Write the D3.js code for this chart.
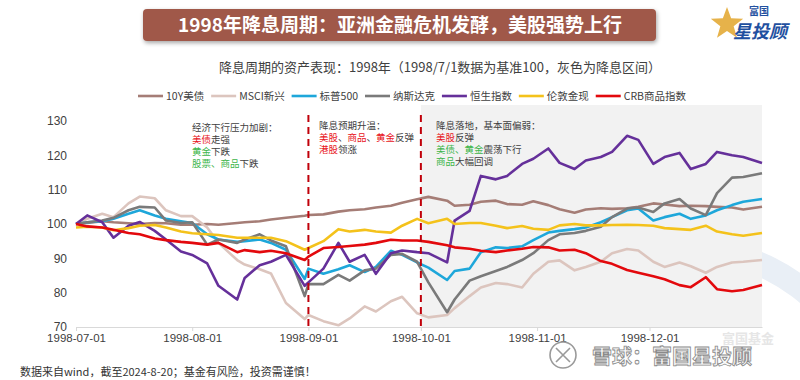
<!DOCTYPE html>
<html>
<head>
<meta charset="utf-8">
<script src="https://cdn.jsdelivr.net/npm/d3@7"></script>
<style>
  body { margin: 0; background: #fff; }
  svg { font-family: "Noto Sans CJK SC", "Noto Sans", sans-serif; }
</style>
</head>
<body>
<div id="chart"></div>
<script>
const width = 800
const height = 380

const dates = ["1998-07-01","1998-07-04","1998-07-08","1998-07-11","1998-07-15","1998-07-18","1998-07-22","1998-07-25","1998-07-29",
  "1998-08-01","1998-08-05","1998-08-08","1998-08-13","1998-08-15","1998-08-19","1998-08-22","1998-08-26","1998-08-31",
  "1998-09-01","1998-09-05","1998-09-09","1998-09-12","1998-09-16","1998-09-19","1998-09-23","1998-09-26","1998-09-30",
  "1998-10-03","1998-10-08","1998-10-10","1998-10-14","1998-10-17","1998-10-21","1998-10-24","1998-10-28","1998-10-31",
  "1998-11-04","1998-11-07","1998-11-11","1998-11-14","1998-11-18","1998-11-21","1998-11-25","1998-11-28",
  "1998-12-02","1998-12-05","1998-12-09","1998-12-12","1998-12-16","1998-12-19","1998-12-23","1998-12-26","1998-12-31"]

const ust10y = [100,100.3,100.8,100.5,100.2,100,100.3,100.2,99.8,
  99.8,100,99.8,100.3,100.5,100.8,101.3,101.8,102.4,
  102.6,102.8,103.6,104,104.3,104.8,105.3,106.2,107.2,
  107.9,106.8,105.3,105.6,106.5,106.8,105.8,105.6,106.6,
  105.5,104.3,103.3,104.2,104.6,104.4,104.6,105,
  106,105.7,105.2,105.3,105.2,105,104.8,104.2,105]
const msci = [100,101.5,103,102,106,108,107.5,104,102.3,
  102.3,99,94.5,89.5,88.2,86.8,85.6,77,72.3,
  73.5,71.7,70.5,72.5,76,74.5,77.5,78.8,74,
  72.8,73.5,75.5,79,81.5,82.8,82.5,81.5,85.5,
  89,89.4,86.5,87.5,89,91.5,92.7,92.3,
  89,87.5,88.8,87.7,85.8,87.5,88.8,89,89.5]
const spx = [100,100.5,100.8,101.5,103,104,102.5,101.5,100.8,
  100.3,97,95.5,94.8,95,95.5,94.5,92.5,84,
  87,85.5,86.8,88,86,87.5,92.2,91,88.8,
  87.3,83.7,86.3,87,91.8,93.2,93,93.5,95.3,
  97.5,98,98.5,99,100.5,102,104,104.5,
  101,102,103,101.5,102.5,104,105.5,106.5,107.3]
const nasdaq = [100,100.5,101,101.8,104,105,104.8,101,100.3,
  100.5,94,95.5,94.5,95.5,97,95.2,93.5,79,
  82.5,82.5,85.2,83.5,86.5,87,91,91.3,89,
  83,74.3,78,83.5,84.8,86.3,87.5,89.5,91.5,
  95.3,97,97.4,98,99.2,102,104.5,104.8,
  103.5,106,107.3,104.5,102.6,109,113.5,113.7,114.8]
const hsi = [100,102.5,100.5,96,99.5,100.6,98,95.5,92,
  91,88.5,82,78,84.3,88,89,91,82,
  83,87,94.5,89,91,85.5,91.5,92.3,91.8,
  91.5,88.8,101,103.8,114,113,114,117.5,119,
  122,117.8,116,118.5,119.5,121,125.7,124.5,
  117.5,119.5,120.7,116,117.5,121,120,119.5,117.8]
const gold = [99,99.2,99,98.2,98.8,99.5,99.7,99,97.8,
  97.3,97,96.8,96,96,96,96,95,92.5,
  93,95,98.5,97.8,98.3,97.8,97.5,99.5,101.5,
  100.2,101.5,100,100.3,100.3,99.5,98.8,99.4,98.6,
  98.3,99.6,100,99.6,99.6,99.7,99.8,99.7,
  99.5,98.8,98.5,98.3,99.5,97.8,97,96.6,97.4]
const crb = [100,99.3,99,98.3,97.4,97,95.8,95.3,94.8,
  94.5,94,94.5,91.8,92.4,91.8,92.2,91.5,89.5,
  90.5,93,93.3,93.6,94,94.5,95.4,95.2,95.2,
  94.8,93.8,93.2,92.8,92.2,91.8,92.3,92.8,93.3,
  93.2,92.3,92.5,91.5,89.2,88.4,86.6,85.8,
  84.8,83.9,82.2,81.6,84.5,81,80.4,80.8,82.2]

const seriesNames = ["10Y美债", "MSCI新兴", "标普500", "纳斯达克", "恒生指数", "伦敦金现", "CRB商品指数"]
const seriesValues = [ust10y, msci, spx, nasdaq, hsi, gold, crb]
const colors = ["#a57d76", "#dcc5be", "#1ea7da", "#7a7a7a", "#65309a", "#f4c21b", "#e3090d"]

const monthTicks = ["1998-07-01","1998-08-01","1998-09-01","1998-10-01","1998-11-01","1998-12-01"]
const yTicks = [70, 80, 90, 100, 110, 120, 130]
const cutLines = ["1998-09-01", "1998-10-01"]
const cutRange = ["1998-10-01", "1998-12-31"]

const parse = d3.timeParse("%Y-%m-%d")

const svg = d3.select("div#chart").append("svg").attr("width", width).attr("height", height)

const defs = svg.append("defs")
const shadow = defs.append("filter").attr("id", "shadow").attr("x", "-5%").attr("y", "-30%").attr("width", "110%").attr("height", "170%")
shadow.append("feDropShadow").attr("dx", 1).attr("dy", 2).attr("stdDeviation", 2).attr("flood-color", "#000").attr("flood-opacity", 0.35)

// faint logo arc in the corner
svg.append("path")
  .attr("d", d3.arc()({innerRadius: 168, outerRadius: 192, startAngle: -0.1, endAngle: 1.4}))
  .attr("transform", "translate(690, 430)")
  .attr("fill", "#e9eff6")

const x = d3.scaleTime().domain([parse("1998-07-01"), parse("1998-12-31")]).range([76, 762])
const y = d3.scaleLinear().domain([70, 130]).range([327, 121])

// grey easing band
svg.append("rect")
  .attr("x", x(parse(cutRange[0])))
  .attr("y", 105)
  .attr("width", x(parse(cutRange[1])) - x(parse(cutRange[0])))
  .attr("height", y(70) - 105)
  .attr("fill", "#f2f2f2")

// axes
const xAxisGroup = svg.append("g").attr("transform", `translate(0, ${y(70)})`)
  .call(d3.axisBottom(x).tickValues(monthTicks.map(parse)).tickFormat(d3.timeFormat("%Y-%m-%d")).tickSizeInner(4).tickSizeOuter(0).tickPadding(3))
xAxisGroup.select(".domain").attr("stroke", "#d9d9d9")
xAxisGroup.selectAll(".tick line").attr("stroke", "#d9d9d9")
xAxisGroup.selectAll(".tick text").attr("fill", "#404040").style("font-size", "11.5px").style("font-family", "Liberation Sans, Arial, sans-serif")

const yAxisGroup = svg.append("g").attr("transform", "translate(70, 0)")
  .call(d3.axisLeft(y).tickValues(yTicks).tickSize(0).tickPadding(3))
yAxisGroup.select(".domain").remove()
yAxisGroup.selectAll(".tick text").attr("fill", "#404040").style("font-size", "12px").style("font-family", "Liberation Sans, Arial, sans-serif")

// series
const line = d3.line().x(d => x(d.date)).y(d => y(d.v))
seriesValues.forEach((vals, i) => {
  const pts = vals.map((v, j) => ({date: parse(dates[j]), v: v}))
  svg.append("path")
    .datum(pts)
    .attr("d", line)
    .attr("fill", "none")
    .attr("stroke", colors[i])
    .attr("stroke-width", 2.6)
    .attr("stroke-linejoin", "round")
})

// rate cut markers
svg.selectAll(".cut").data(cutLines).enter().append("line")
  .attr("class", "cut")
  .attr("x1", d => x(parse(d))).attr("x2", d => x(parse(d)))
  .attr("y1", 115).attr("y2", y(70))
  .attr("stroke", "#c0000a").attr("stroke-width", 2).attr("stroke-dasharray", "7,5")

// title banner
svg.append("rect").attr("x", 143).attr("y", 9).attr("width", 513).attr("height", 32).attr("rx", 4)
  .attr("fill", "#a0594a").attr("filter", "url(#shadow)")
svg.append("text").attr("x", 400).attr("y", 32).attr("text-anchor", "middle")
  .attr("fill", "#fff").style("font-size", "19px").style("font-weight", "bold")
  .text("1998年降息周期：亚洲金融危机发酵，美股强势上行")

svg.append("text").attr("x", 440).attr("y", 72).attr("text-anchor", "middle")
  .attr("fill", "#404040").style("font-size", "13px")
  .text("降息周期的资产表现：1998年（1998/7/1数据为基准100，灰色为降息区间）")

// legend
const legend = svg.append("g")
const items = legend.selectAll("g").data(seriesNames).enter().append("g")
items.append("line").attr("x1", 0).attr("x2", 25).attr("y1", 96).attr("y2", 96)
  .attr("stroke", (d, i) => colors[i]).attr("stroke-width", 2.6)
items.append("text").attr("x", 28).attr("y", 100).attr("fill", "#404040").style("font-size", "10.5px").text(d => d)
const widths = items.nodes().map(n => 28 + n.querySelector("text").getComputedTextLength())
const gap = (548 - d3.sum(widths)) / (widths.length - 1)
let cx = 138
items.attr("transform", (d, i) => { const t = `translate(${cx},0)`; cx += widths[i] + gap; return t })

// annotations
const tone = {d: "#404040", r: "#e8141b", g: "#3db54a"}
const notes = [
  {x: 192, y: 131, lines: [[["经济下行压力加剧：", "d"]], [["美债", "r"], ["走强", "d"]], [["黄金", "g"], ["下跌", "d"]], [["股票、商品", "g"], ["下跌", "d"]]]},
  {x: 319, y: 129, lines: [[["降息预期升温：", "d"]], [["美股", "r"], ["、", "d"], ["商品", "r"], ["、", "d"], ["黄金", "r"], ["反弹", "d"]], [["港股", "r"], ["领涨", "d"]]]},
  {x: 436, y: 129, lines: [[["降息落地，基本面偏弱：", "d"]], [["美股", "r"], ["反弹", "d"]], [["美债、黄金", "g"], ["震荡下行", "d"]], [["商品", "g"], ["大幅回调", "d"]]]}
]
notes.forEach(n => {
  const t = svg.append("text").style("font-size", "9.5px")
  n.lines.forEach((ln, k) => {
    ln.forEach((seg, s) => {
      const sp = t.append("tspan").attr("fill", tone[seg[1]]).text(seg[0])
      if (s === 0) sp.attr("x", n.x).attr("y", n.y + k * 12)
    })
  })
})

// footer
svg.append("text").attr("x", 20).attr("y", 376).attr("fill", "#333").style("font-size", "11px")
  .text("数据来自wind，截至2024-8-20；基金有风险，投资需谨慎！")

// watermark
svg.append("text").attr("x", 722).attr("y", 343).attr("fill", "#e6e6e6").style("font-size", "13px").style("font-weight", "bold").text("富国基金")
const snow = svg.append("g").attr("transform", "translate(563, 355)").attr("fill", "none").attr("stroke", "#9a9a9a").attr("stroke-width", 1.6)
snow.append("circle").attr("r", 13).attr("fill", "#fff")
snow.append("path").attr("d", "M-7,-7 Q0,0 7,7 M7,-7 Q0,0 -7,7")
svg.append("text").attr("x", 592).attr("y", 364).attr("fill", "#fafafa").attr("stroke", "#8a8a8a").attr("stroke-width", 0.8)
  .style("font-size", "20px").style("font-weight", "bold").text("雪球：富国星投顾")

// logo
const star = d3.range(10).map(i => {
  const a = -Math.PI / 2 + i * Math.PI / 5
  const r = i % 2 ? 7 : 17
  return [727 + r * Math.cos(a), 24 + r * Math.sin(a)]
})
svg.append("polygon").attr("points", star.map(p => p.join(",")).join(" ")).attr("fill", "#e6b24a")
svg.append("text").attr("x", 749).attr("y", 15).attr("fill", "#1f50a0").style("font-size", "10px").style("font-weight", "bold").text("富国")
svg.append("text").attr("x", 733).attr("y", 38).attr("fill", "#1f50a0").style("font-size", "18px").style("font-weight", "bold").style("font-style", "italic").text("星投顾")
</script>
</body>
</html>
